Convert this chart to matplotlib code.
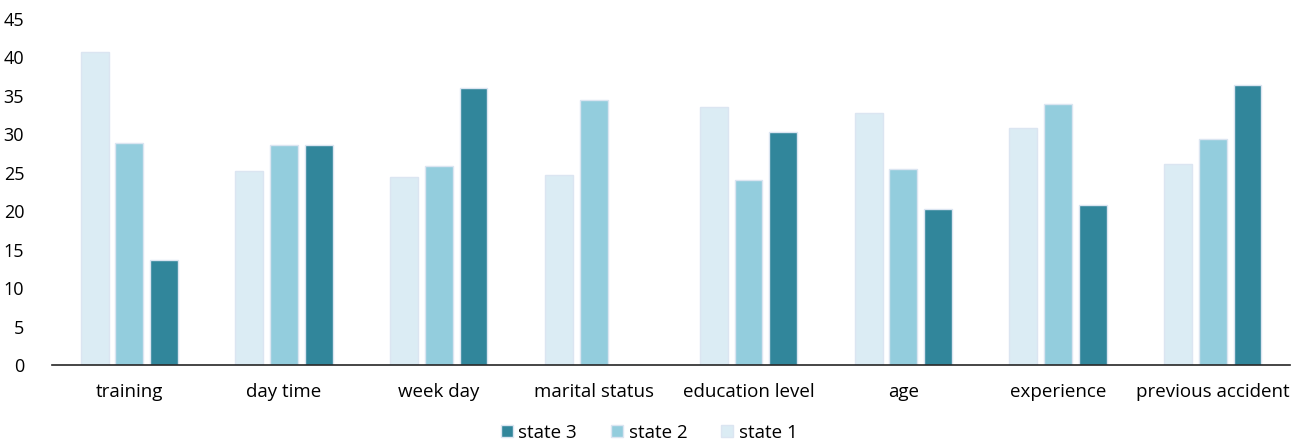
import numpy as np
import matplotlib.pyplot as plt

plt.rcParams['font.family'] = ['Open Sans', 'DejaVu Sans']

categories = ["training", "day time", "week day", "marital status",
              "education level", "age", "experience", "previous accident"]
state1 = [40.7, 25.2, 24.4, 24.7, 33.5, 32.8, 30.8, 26.1]
state2 = [28.9, 28.6, 25.9, 34.5, 24.1, 25.5, 33.9, 29.4]
state3 = [13.65, 28.6, 36.0, 0, 30.3, 20.3, 20.8, 36.4]

fig = plt.figure(figsize=(12.98, 4.43), dpi=100)
ax = fig.add_axes([0.040, 0.176, 0.954, 0.781])

x = np.arange(len(categories))
w = 0.18
step = 0.224
edge = '#dbe5f1'
ax.bar(x - step, state1, w, color='#dbecf4', edgecolor=edge, linewidth=1, label='state 1')
ax.bar(x, state2, w, color='#93cddd', edgecolor=edge, linewidth=1, label='state 2')
ax.bar(x + step, state3, w, color='#31869b', edgecolor=edge, linewidth=1, label='state 3')

ax.set_xlim(-0.5, 7.5)
ax.set_ylim(0, 45)
ax.set_yticks(range(0, 46, 5))
ax.set_xticks(x)
ax.set_xticklabels(categories)
ax.tick_params(axis='both', length=0, labelsize=13, colors='#000000')
ax.tick_params(axis='x', pad=13, labelsize=13.5)
ax.tick_params(axis='y', pad=20)
for s in ['top', 'right', 'left']:
    ax.spines[s].set_visible(False)
ax.spines['bottom'].set_color('#262626')
ax.spines['bottom'].set_linewidth(1.2)

h, l = ax.get_legend_handles_labels()
fig.legend(h[::-1], l[::-1], loc='lower center', ncol=3, frameon=False,
           fontsize=13.5, bbox_to_anchor=(0.5, -0.035), handlelength=0.65,
           handleheight=0.65, handletextpad=0.3, columnspacing=1.8)

fig.savefig('out.png', dpi=100)
